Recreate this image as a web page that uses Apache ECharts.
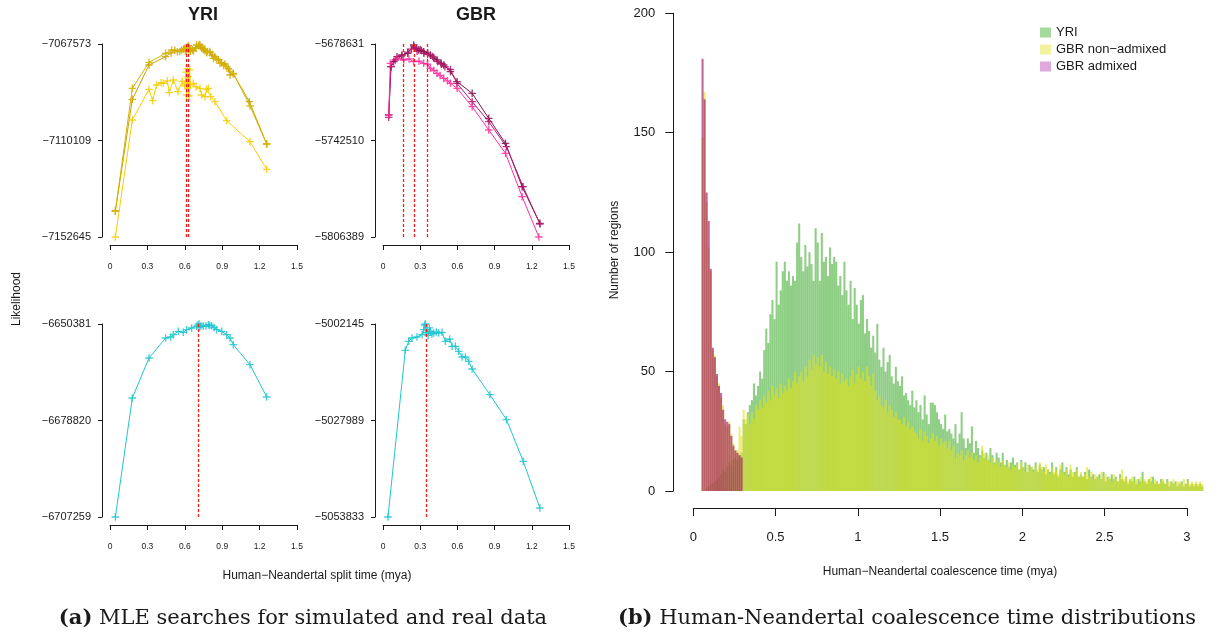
<!DOCTYPE html>
<html><head><meta charset="utf-8">
<script src="https://cdn.jsdelivr.net/npm/echarts@6/dist/echarts.min.js"></script>
<style>html,body{margin:0;padding:0;background:#fff}#c{width:1213px;height:635px}</style>
</head><body><div id="c"></div><script>
// ---------- MLE search panels (x = split time in mya, y = log likelihood) ----------
const xTicks = [0, 0.3, 0.6, 0.9, 1.2, 1.5];
const tlTicks = [-7152645, -7110109, -7067573];
const trTicks = [-5806389, -5742510, -5678631];
const blTicks = [-6707259, -6678820, -6650381];
const brTicks = [-5053833, -5027989, -5002145];

const yriSimA = [[0.043,-7141187],[0.179,-7091963],[0.313,-7076830],[0.446,-7073157],[0.49,-7071500],[0.52,-7070300],[0.56,-7070900],[0.59,-7069800],[0.605,-7070500],[0.615,-7069400],[0.622,-7068900],[0.628,-7070100],[0.635,-7069600],[0.645,-7070800],[0.66,-7070200],[0.69,-7069300],[0.71,-7068300],[0.722,-7068100],[0.735,-7069500],[0.75,-7070000],[0.762,-7070600],[0.78,-7071000],[0.802,-7071400],[0.82,-7072500],[0.842,-7073157],[0.87,-7074500],[0.895,-7075800],[0.922,-7076389],[0.95,-7078500],[0.963,-7081238],[0.989,-7080797],[1.118,-7092993],[1.257,-7111653]];
const yriSimB = [[0.043,-7141187],[0.179,-7087115],[0.313,-7075654],[0.446,-7071687],[0.494,-7070218],[0.54,-7070952],[0.575,-7070200],[0.6,-7069500],[0.612,-7070600],[0.62,-7069000],[0.63,-7068300],[0.64,-7069900],[0.67,-7070700],[0.695,-7068014],[0.715,-7067800],[0.735,-7068900],[0.76,-7069800],[0.775,-7071393],[0.8,-7070900],[0.829,-7073891],[0.856,-7074200],[0.882,-7076095],[0.91,-7077000],[0.936,-7077564],[0.96,-7079500],[0.989,-7080503],[1.123,-7094903],[1.257,-7111653]];
const yriSimC = [[0.043,-7152645],[0.179,-7101074],[0.313,-7087556],[0.342,-7092552],[0.374,-7085646],[0.41,-7084600],[0.428,-7084911],[0.46,-7083800],[0.476,-7089026],[0.508,-7083442],[0.545,-7088585],[0.58,-7084000],[0.6,-7086000],[0.61,-7080000],[0.615,-7090054],[0.62,-7078500],[0.625,-7087000],[0.628,-7082000],[0.632,-7090500],[0.638,-7079000],[0.645,-7085500],[0.668,-7084911],[0.69,-7086500],[0.722,-7087115],[0.735,-7090054],[0.762,-7090789],[0.775,-7087556],[0.789,-7087115],[0.808,-7090789],[0.842,-7092993],[0.936,-7101368],[1.123,-7110624],[1.257,-7122821]];

const gbrSimA = [[0.046,-5725633],[0.064,-5693636],[0.086,-5690326],[0.113,-5687016],[0.153,-5685913],[0.2,-5684810],[0.247,-5679293],[0.27,-5681500],[0.288,-5682603],[0.31,-5683000],[0.328,-5683706],[0.36,-5684500],[0.382,-5685913],[0.41,-5687900],[0.436,-5689223],[0.47,-5691400],[0.49,-5692533],[0.544,-5696946],[0.597,-5703566],[0.719,-5711289],[0.853,-5727839],[0.988,-5744389],[1.122,-5773077],[1.265,-5797350]];
const gbrSimB = [[0.046,-5727177],[0.064,-5693636],[0.1,-5689223],[0.15,-5686500],[0.2,-5684000],[0.23,-5682000],[0.25,-5680500],[0.275,-5683500],[0.3,-5682200],[0.33,-5684800],[0.36,-5685500],[0.4,-5686900],[0.44,-5690326],[0.47,-5692000],[0.5,-5693700],[0.544,-5695500],[0.597,-5704670],[0.719,-5716806],[0.853,-5730046],[0.995,-5746596],[1.13,-5773077],[1.265,-5797791]];
const gbrSimC = [[0.046,-5725633],[0.059,-5691430],[0.113,-5688120],[0.167,-5689223],[0.21,-5688500],[0.247,-5690326],[0.29,-5690000],[0.328,-5691430],[0.36,-5692000],[0.382,-5694740],[0.41,-5696200],[0.436,-5698050],[0.46,-5699500],[0.49,-5701360],[0.52,-5703000],[0.544,-5704670],[0.597,-5707980],[0.719,-5720116],[0.853,-5735563],[0.988,-5751009],[1.122,-5779697],[1.257,-5806389]];

const yriReal = [[0.043,-6707259],[0.179,-6672189],[0.313,-6660401],[0.446,-6654507],[0.487,-6654212],[0.508,-6653524],[0.548,-6652542],[0.588,-6652837],[0.615,-6652051],[0.655,-6651560],[0.695,-6651069],[0.705,-6650700],[0.714,-6650381],[0.72,-6651300],[0.73,-6650900],[0.749,-6651069],[0.77,-6651000],[0.789,-6650577],[0.8,-6650800],[0.816,-6650872],[0.835,-6651400],[0.856,-6652051],[0.896,-6652542],[0.936,-6653524],[0.963,-6654507],[0.989,-6656471],[1.123,-6662366],[1.257,-6671894]];
const gbrReal = [[0.04,-5053833],[0.18,-5009197],[0.207,-5006787],[0.234,-5005894],[0.274,-5005626],[0.315,-5005002],[0.328,-5003663],[0.335,-5002400],[0.342,-5002145],[0.348,-5004500],[0.355,-5003663],[0.365,-5005200],[0.375,-5003200],[0.382,-5004109],[0.395,-5004800],[0.409,-5004555],[0.43,-5004300],[0.449,-5004555],[0.476,-5004377],[0.503,-5006787],[0.538,-5006162],[0.557,-5008126],[0.584,-5008126],[0.611,-5009465],[0.638,-5010982],[0.665,-5010982],[0.692,-5012143],[0.719,-5014196],[0.862,-5021070],[0.996,-5027765],[1.131,-5038923],[1.265,-5051420]];

const redTL = [0.615, 0.628];
const redTR = [0.158, 0.247, 0.36];
const redBL = [0.714];
const redBR = [0.346];

// ---------- Coalescence time histogram ----------
const histStart = 0.05;      // first bin edge (mya)
const histBin = 0.0125;      // bin width (mya)
const histXTicks = [0, 0.5, 1, 1.5, 2, 2.5, 3];
const histYTicks = [0, 50, 100, 150, 200];
const yriCounts = [
 0,0,1,2,3,3,4,5, 6,7,9,8,10,12,11,13, 14,13,15,16,30,28,33,36, 38,45,40,44,50,47,59,68,
 62,74,80,72,96,78,84,92, 96,88,92,86,90,88,104,112, 98,92,103,94,100,95,88,110, 104,88,108,96,98,90,102,95,
 98,96,86,90,82,96,84,78, 88,72,85,78,70,80,82,66, 72,67,60,65,58,70,55,52, 60,50,54,57,48,45,52,46,
 44,48,40,41,38,36,42,35, 38,33,36,30,40,32,28,37, 37,36,33,30,28,26,32,25, 26,24,22,28,20,24,33,22,
 18,22,20,27,16,21,18,15, 17,14,16,13,18,15,12,16, 14,12,16,11,13,10,12,14, 11,12,9,13,10,12,8,11,
 10,9,12,8,11,9,10,7, 9,8,12,7,10,6,9,12, 8,10,7,9,6,8,10,6, 7,6,8,5,9,6,7,5,
 6,7,5,8,4,6,5,7, 5,6,4,7,5,4,6,3, 5,4,6,3,5,4,8,4, 3,5,4,6,3,4,3,5,
 4,3,5,2,4,3,4,2, 3,4,2,3,5,2,3,2, 3,2,3,2];
const gbrNonAdmixedCounts = [
 148,167,121,102,92,59,57,48, 45,39,36,28,27,29,24,20, 17,17,27,23,34,30,32,28, 33,30,36,34,38,35,40,37,
 42,38,44,40,43,39,45,41, 44,42,47,43,46,50,45,48, 50,46,52,48,55,51,57,53, 56,52,57,50,54,49,52,48,
 51,47,50,45,49,46,47,44, 48,51,45,49,52,47,50,46, 52,48,44,49,42,38,40,36, 35,38,33,36,34,31,33,30,
 30,28,31,27,29,26,27,25, 24,22,26,21,25,23,20,22, 24,21,23,19,22,20,21,18, 21,17,19,14,16,15,17,13,
 15,17,14,16,13,15,12,14, 19,16,13,15,12,14,11,13, 12,10,13,11,10,12,9,11, 10,11,9,12,10,8,11,9,
 10,8,11,9,12,10,8,11, 9,7,10,8,9,7,11,8, 7,9,6,11,8,7,9,6, 8,6,7,10,6,8,5,7,
 6,5,8,6,7,5,6,4, 7,5,4,6,9,5,6,4, 5,6,4,5,3,6,4,5, 4,5,6,3,5,4,3,4,
 5,3,4,4,3,5,3,4, 4,3,5,3,4,3,4,3, 4,3,4,3];
const gbrAdmixedCounts = [181,164,125,113,93,60,56,49, 44,41,34,30,29,28,23,19, 17,16,15,14];

// ---------- styling ----------
const FONT = '"Liberation Sans", Arial, Helvetica, sans-serif';
const INK = '#1a1a1a';
const PLUS = 'path://M-0.9,-5 L0.9,-5 L0.9,-0.9 L5,-0.9 L5,0.9 L0.9,0.9 L0.9,5 L-0.9,5 L-0.9,0.9 L-5,0.9 L-5,-0.9 L-0.9,-0.9 Z';
const C_YRI = 'rgba(62,170,44,0.58)';
const C_GBRN = 'rgba(226,226,26,0.62)';
const C_GBRA = 'rgba(165,30,100,0.68)';

const minus = v => (v < 0 ? '\u2212' + Math.abs(v) : String(v));

const panelGrids = [
  {left: 110, top: 44, width: 187, height: 193},
  {left: 383, top: 44, width: 186, height: 193},
  {left: 110, top: 324, width: 187, height: 193},
  {left: 383, top: 324, width: 186, height: 193}
];
const panelTicks = [tlTicks, trTicks, blTicks, brTicks];

const grids = panelGrids.concat([
  {left: 693.3, top: 13.3, width: 3.13 * 164.5, height: 477.7},
  {left: 693.3, top: 13.3, width: 3 * 164.5, height: 477.7}
]);

const xAxes = panelGrids.map((g, i) => ({
  type: 'value', gridIndex: i, min: 0, max: 1.5, interval: 0.3, offset: 8,
  axisLine: {show: true, onZero: false, lineStyle: {color: INK, width: 1}},
  axisTick: {show: true, length: 5, lineStyle: {color: INK}},
  axisLabel: {fontSize: 8.5, color: INK, margin: 17, fontFamily: FONT,
    formatter: v => String(Math.round(v * 10) / 10)},
  splitLine: {show: false}
}));
const yAxes = panelTicks.map((t, i) => ({
  type: 'value', gridIndex: i, min: t[0], max: t[2], offset: 8,
  axisLine: {show: true, onZero: false, lineStyle: {color: INK, width: 1}},
  axisTick: {show: true, length: 4, customValues: t, lineStyle: {color: INK}},
  axisLabel: {fontSize: 11, color: INK, margin: 11, fontFamily: FONT, customValues: t, formatter: minus},
  splitLine: {show: false}
}));
xAxes.push({type: 'value', gridIndex: 4, min: 0, max: 3.13, show: false});
yAxes.push({
  type: 'value', gridIndex: 4, min: 0, max: 200, interval: 50, offset: 20,
  axisLine: {show: true, onZero: false, lineStyle: {color: INK, width: 1}},
  axisTick: {show: true, length: 8, lineStyle: {color: INK}},
  axisLabel: {fontSize: 13, color: INK, margin: 18, fontFamily: FONT},
  splitLine: {show: false}
});
xAxes.push({
  type: 'value', gridIndex: 5, min: 0, max: 3, interval: 0.5, offset: 17,
  axisLine: {show: true, onZero: false, lineStyle: {color: INK, width: 1}},
  axisTick: {show: true, length: 8, lineStyle: {color: INK}},
  axisLabel: {fontSize: 13, color: INK, margin: 23, fontFamily: FONT, formatter: v => String(v)},
  splitLine: {show: false}
});
yAxes.push({type: 'value', gridIndex: 5, min: 0, max: 200, show: false});

function lineSeries(name, data, idx, color, red) {
  const s = {
    name: name, type: 'line', xAxisIndex: idx, yAxisIndex: idx, data: data,
    symbol: PLUS, symbolSize: 7.5, showSymbol: true,
    lineStyle: {color: color, width: 1},
    itemStyle: {color: color, opacity: 0.85},
    emphasis: {disabled: true}, z: 3
  };
  if (red) {
    s.markLine = {
      silent: true, symbol: ['none', 'none'], label: {show: false},
      lineStyle: {color: '#ff1a1a', type: [3, 2], width: 1.3},
      data: red.map(v => ({xAxis: v})), z: 5
    };
  }
  return s;
}

function histSeries(name, counts, color) {
  return {
    name: name, type: 'custom', xAxisIndex: 4, yAxisIndex: 4,
    data: counts.map((c, i) => [histStart + i * histBin, c]),
    itemStyle: {color: color},
    renderItem: function (params, api) {
      const x0 = api.value(0), c = api.value(1);
      const p0 = api.coord([x0, c]);
      const p1 = api.coord([x0 + histBin, 0]);
      return {type: 'rect', shape: {x: p0[0], y: p0[1], width: p1[0] - p0[0], height: p1[1] - p0[1]},
        style: {fill: color}};
    },
    emphasis: {disabled: true}
  };
}

const series = [
  lineSeries('YRI sim A', yriSimA, 0, '#c9a300', redTL),
  lineSeries('YRI sim B', yriSimB, 0, '#d7b300'),
  lineSeries('YRI sim C', yriSimC, 0, '#f5cf00'),
  lineSeries('GBR sim A', gbrSimA, 1, '#86124f', redTR),
  lineSeries('GBR sim B', gbrSimB, 1, '#b3186f'),
  lineSeries('GBR sim C', gbrSimC, 1, '#ff2f9e'),
  lineSeries('YRI real', yriReal, 2, '#1fc6cf', redBL),
  lineSeries('GBR real', gbrReal, 3, '#1fc6cf', redBR),
  histSeries('YRI', yriCounts, C_YRI),
  histSeries('GBR non\u2212admixed', gbrNonAdmixedCounts, C_GBRN),
  histSeries('GBR admixed', gbrAdmixedCounts, C_GBRA)
];

function txt(x, y, text, size, opts) {
  opts = opts || {};
  return {type: 'text', x: x, y: y, rotation: opts.rot || 0, silent: true,
    style: {text: text, fill: INK, fontSize: size, fontFamily: opts.family || FONT,
      fontWeight: opts.weight || 'normal', align: 'center', verticalAlign: 'middle', rich: opts.rich}};
}

const SERIF = '"DejaVu Serif", "Liberation Serif", serif';
const option = {
  animation: false,
  backgroundColor: '#ffffff',
  grid: grids,
  xAxis: xAxes,
  yAxis: yAxes,
  legend: {
    show: true, orient: 'vertical', left: 1035, top: 21, itemWidth: 11, itemHeight: 10, itemGap: 4,
    icon: 'rect', textStyle: {fontSize: 13, color: INK, fontFamily: FONT}, selectedMode: false,
    data: [
      {name: 'YRI', itemStyle: {color: '#a6d99c'}},
      {name: 'GBR non\u2212admixed', itemStyle: {color: '#f2f29d'}},
      {name: 'GBR admixed', itemStyle: {color: '#dfa9db'}}
    ]
  },
  graphic: [
    txt(203, 15, 'YRI', 18, {weight: 'bold'}),
    txt(476, 15, 'GBR', 18, {weight: 'bold'}),
    txt(17, 299, 'Likelihood', 12, {rot: Math.PI / 2}),
    txt(317, 576, 'Human\u2212Neandertal split time (mya)', 12),
    txt(615, 250, 'Number of regions', 12, {rot: Math.PI / 2}),
    txt(940, 572, 'Human\u2212Neandertal coalescence time (mya)', 12),
    txt(303, 619, '{b|(a)} MLE searches for simulated and real data', 21, {family: SERIF,
      rich: {b: {fontWeight: 'bold', fontSize: 21, fontFamily: SERIF, fill: INK}}}),
    txt(907, 619, '{b|(b)} Human-Neandertal coalescence time distributions', 21, {family: SERIF,
      rich: {b: {fontWeight: 'bold', fontSize: 21, fontFamily: SERIF, fill: INK}}})
  ],
  series: series
};

const chart = echarts.init(document.getElementById('c'), null, {renderer: 'canvas'});
chart.setOption(option);
</script></body></html>
